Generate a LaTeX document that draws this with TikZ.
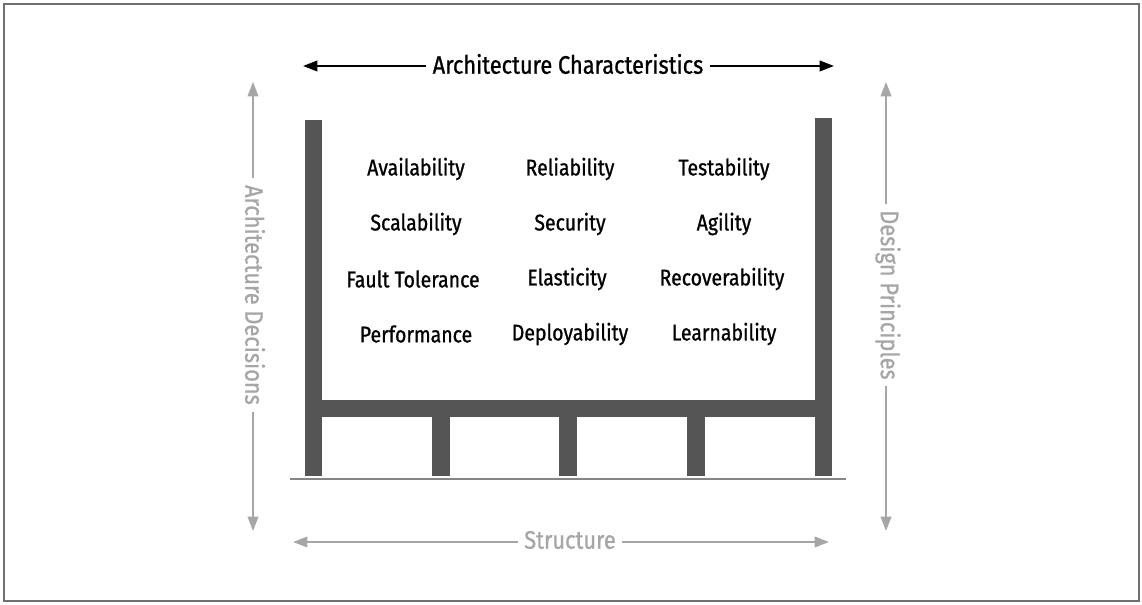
\documentclass[tikz,border=0pt]{standalone}
\usepackage{fontspec}
\setmainfont[FakeStretch=0.86, FakeBold=0.9]{Fira Sans}
\usepackage{xcolor}
\usetikzlibrary{arrows.meta,positioning}

\definecolor{beam}{HTML}{555555}
\definecolor{hint}{HTML}{A6A6A6}
\definecolor{framegray}{HTML}{707070}

\begin{document}
\begin{tikzpicture}[
    x=0.75pt, y=-0.75pt,
    lbl/.style={font=\fontsize{17}{20}\selectfont, inner sep=2pt},
    axlabel/.style={font=\fontsize{19}{22}\selectfont, fill=white, inner sep=2pt, inner xsep=5pt},
    axis/.style={axlabel, text=hint},
    span/.style={{Triangle[length=3.8mm, width=2.8mm]}-{Triangle[length=3.8mm, width=2.8mm]}, line width=1.5pt},
    post/.style={fill=beam}
  ]
    \useasboundingbox (0,0) rectangle (1142,605);
    \draw[framegray, line width=1.6pt] (4,4) rectangle (1139,601);

    % arrows with their captions
    \coordinate (topl) at (303,66);
    \coordinate (topr) at (834,66);
    \draw[span, black] (topl) -- (topr);
    \node[axlabel] (chars) at (568,64) {Architecture Characteristics};

    \coordinate (botl) at (293,542);
    \coordinate (botr) at (829,542);
    \draw[span, hint] (botl) -- (botr);
    \node[axis] (struct) at (570,540) {Structure};

    \coordinate (lefttop) at (253,82);
    \coordinate (leftbot) at (253,531);
    \draw[span, hint] (lefttop) -- (leftbot);
    \node[axis, rotate=-90] (decisions) at (255,295) {Architecture Decisions};

    \coordinate (righttop) at (886,82);
    \coordinate (rightbot) at (886,531);
    \draw[span, hint] (righttop) -- (rightbot);
    \node[axis, rotate=-90] (principles) at (888,295) {Design Principles};

    % the building
    \fill[post] (305,120) rectangle (322,476);
    \fill[post] (815,118) rectangle (832,476);
    \fill[post] (305,400) rectangle (832,417);
    \fill[post] (432,417) rectangle (450,476);
    \fill[post] (559,417) rectangle (577,476);
    \fill[post] (687,417) rectangle (705,476);
    \draw[hint!80!black, line width=1.5pt] (290,479) -- (846,479);

    % characteristics
    \node[lbl] (avail) at (416,169) {Availability};
    \node[lbl] (reli) at (570,169) {Reliability};
    \node[lbl] (test) at (724,169) {Testability};
    \node[lbl] (scal) at (416,224) {Scalability};
    \node[lbl] (secu) at (570,224) {Security};
    \node[lbl] (agil) at (724,224) {Agility};
    \node[lbl] (fault) at (413,279) {Fault Tolerance};
    \node[lbl] (elas) at (567,279) {Elasticity};
    \node[lbl] (recov) at (722,279) {Recoverability};
    \node[lbl] (perf) at (416,334) {Performance};
    \node[lbl] (deploy) at (570,334) {Deployability};
    \node[lbl] (learn) at (724,334) {Learnability};
\end{tikzpicture}
\end{document}
